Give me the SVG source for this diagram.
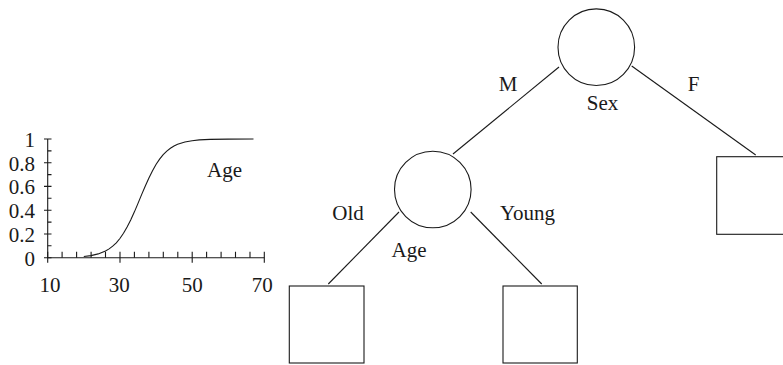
<svg xmlns="http://www.w3.org/2000/svg" width="783" height="365" viewBox="0 0 783 365">
  <style>
    text { font-family: "Liberation Serif", "Times New Roman", serif; font-size: 21px; fill: #1a1a1a; }
    .tick { font-size: 20px; }
    .node { fill: #fff; stroke: #1a1a1a; stroke-width: 1.1; }
    .edge { fill: none; stroke: #1a1a1a; stroke-width: 1.1; }
    .axis { fill: none; stroke: #1a1a1a; stroke-width: 1.1; }
    .curve { fill: none; stroke: #1a1a1a; stroke-width: 1.1; }
  </style>
  <rect width="783" height="365" fill="#fff"/>

  <!-- cumulative age distribution plot -->
  <g id="age-plot">
    <g class="axis">
      <line x1="47.7" y1="139" x2="47.7" y2="257.7"/>
      <line x1="47.7" y1="257.7" x2="264.3" y2="257.7"/>
      <!-- y ticks: major both sides, minor to the right -->
      <path d="M44 139H51.5 M44 162.7H51.5 M44 186.4H51.5 M44 210.2H51.5 M44 234H51.5 M44 257.7H51.5
               M47.7 150.9H51.5 M47.7 174.6H51.5 M47.7 198.3H51.5 M47.7 222.1H51.5 M47.7 245.8H51.5"/>
      <!-- x ticks: every 4 units, labelled ones extend below -->
      <path d="M47.7 251.7V262.7 M120 251.7V262.7 M192.2 251.7V262.7 M264.3 251.7V262.7
               M62.1 251.7V257.7 M76.6 251.7V257.7 M91.1 251.7V257.7 M105.5 251.7V257.7
               M134.4 251.7V257.7 M148.9 251.7V257.7 M163.3 251.7V257.7 M177.8 251.7V257.7
               M206.6 251.7V257.7 M221.1 251.7V257.7 M235.5 251.7V257.7 M250 251.7V257.7"/>
    </g>
    <g class="tick" text-anchor="end">
      <text x="35" y="147">1</text>
      <text x="35" y="170.7">0.8</text>
      <text x="35" y="194.4">0.6</text>
      <text x="35" y="218.2">0.4</text>
      <text x="35" y="242">0.2</text>
      <text x="35" y="265.5">0</text>
    </g>
    <g class="tick" text-anchor="middle">
      <text x="50" y="292">10</text>
      <text x="119.2" y="292">30</text>
      <text x="192.2" y="292">50</text>
      <text x="262.2" y="292">70</text>
    </g>
    <path class="curve" d="M83.8 256.5 L91 255.6 L98.2 253.9 L105.5 251 L109.1 248.9 L112.7 246.2 L116.3 242.8
      L119.9 238.5 L123.5 233.3 L127.1 227.1 L130.7 220 L134.3 212.1 L137.9 203.6 L141.5 194.9
      L145.2 186.3 L148.8 178.2 L152.4 170.9 L156 164.5 L159.6 159.1 L163.2 154.7 L166.8 151.1
      L170.4 148.3 L174 146 L177.6 144.3 L184.9 142 L192.1 140.7 L199.3 139.9 L210.1 139.4
      L228.2 139.1 L253.5 139"/>
    <text x="224.5" y="177" text-anchor="middle">Age</text>
  </g>

  <!-- tree connectors -->
  <g id="connectors" class="edge">
    <line x1="559" y1="67" x2="453" y2="154"/>
    <line x1="631.7" y1="66" x2="755.7" y2="155"/>
    <line x1="399" y1="212" x2="328.3" y2="284"/>
    <line x1="470.7" y1="212" x2="541.7" y2="284"/>
  </g>

  <!-- connector labels -->
  <g id="edge-labels" text-anchor="middle">
    <text x="508" y="91">M</text>
    <text x="693.5" y="91">F</text>
    <text x="348" y="220">Old</text>
    <text x="527.5" y="220">Young</text>
  </g>

  <g id="node-sex">
    <circle class="node" cx="596.3" cy="47.2" r="38.3"/>
    <text x="602.5" y="110" text-anchor="middle">Sex</text>
  </g>

  <g id="node-age">
    <circle class="node" cx="432.8" cy="189.5" r="38.3"/>
    <text x="409" y="257" text-anchor="middle">Age</text>
  </g>

  <g id="leaf-female">
    <rect class="node" x="716.7" y="156.7" width="75.3" height="77.6"/>
  </g>

  <g id="leaf-old">
    <rect class="node" x="289.3" y="286" width="74.7" height="77"/>
  </g>

  <g id="leaf-young">
    <rect class="node" x="503" y="286" width="74.3" height="77"/>
  </g>
</svg>
